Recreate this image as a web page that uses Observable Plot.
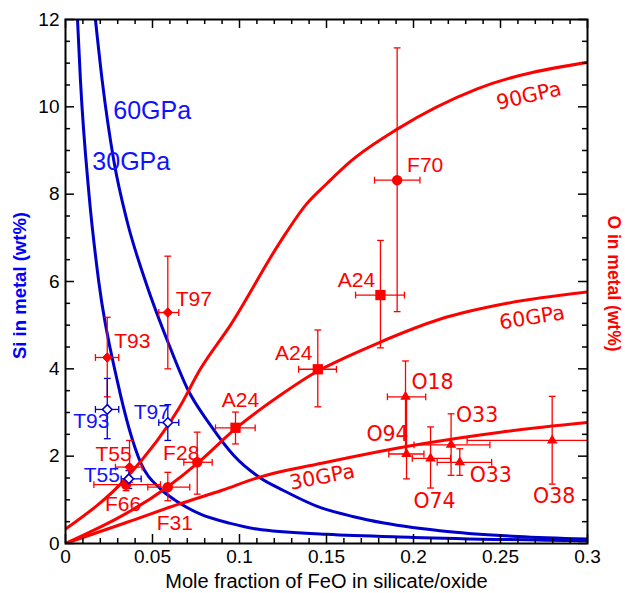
<!DOCTYPE html>
<html><head><meta charset="utf-8">
<script src="https://cdn.jsdelivr.net/npm/d3@7"></script>
<script src="https://cdn.jsdelivr.net/npm/@observablehq/plot@0.6"></script>
<style>body{margin:0;background:#fff}#chart{width:625px;height:593px}</style>
</head><body><div id="chart"></div>
<script>
// ---------- data ----------
// Si in metal (blue) model curves
const si30X = [0.0069,0.0086,0.0135,0.0191,0.0299,0.0431,0.0546,0.0651,0.0776,0.0948,0.11,0.15,0.2,0.3];
const si30Y = [12,10.6,8.0,6.0,3.70,1.86,1.25,0.94,0.67,0.46,0.33,0.21,0.14,0.06];
const si60X = [0.0172,0.0211,0.0278,0.0354,0.046,0.0603,0.07,0.0833,0.0966,0.112,0.125,0.1447,0.165,0.183,0.221,0.26,0.3];
const si60Y = [12,10.6,8.76,7.38,6.0,4.47,3.55,2.71,2.02,1.5,1.22,0.85,0.62,0.47,0.27,0.16,0.10];
// O in metal (red) model curves
const o30X = [0,0.035,0.065,0.09,0.11,0.15,0.2,0.25,0.3];
const o30Y = [0,0.48,0.90,1.22,1.50,1.86,2.25,2.55,2.77];
const o60X = [0,0.0584,0.0776,0.0977,0.1236,0.145,0.162,0.179,0.2155,0.2538,0.3];
const o60Y = [0,1.29,1.9,2.63,3.40,3.95,4.28,4.58,5.14,5.50,5.76];
const o90X = [0,0.0354,0.0651,0.0776,0.0948,0.1236,0.138,0.1504,0.1638,0.1907,0.2366,0.3];
const o90Y = [0.33,1.52,3.09,4.0,5.0,6.92,7.75,8.25,8.75,9.49,10.41,11.02];

// O in metal measurements
const oLabel = ["T97","T93","T55","F66","F31","F28","A24","A24","A24","F70","O18","O94","O74","O33","O33","O38"];
const oShape = ["diamond2","diamond2","diamond2","circle","circle","circle","square","square","square","circle","triangle","triangle","triangle","triangle","triangle","triangle"];
const oX   = [0.0588,0.024,0.0368,0.0348,0.0588,0.0757,0.0977,0.145,0.181,0.1906,0.1954,0.196,0.2098,0.2216,0.2266,0.2797];
const oY   = [5.29,4.26,1.75,1.35,1.29,1.86,2.65,3.99,5.69,8.32,3.36,2.05,1.95,2.26,1.86,2.36];
const oXlo = [0.0536,0.0172,0.0287,0.0163,0.0473,0.068,0.0862,0.134,0.1667,0.1776,0.185,0.1858,0.1993,0.2003,0.2136,0.2308];
const oXhi = [0.0651,0.0306,0.044,0.0546,0.0714,0.0843,0.109,0.1557,0.1948,0.2037,0.207,0.206,0.2213,0.2439,0.2449,0.32];
const oYlo = [4.0,3.36,1.40,1.21,0.98,1.13,2.28,3.13,4.48,5.31,2.05,1.48,1.27,1.56,1.56,1.36];
const oYhi = [6.58,5.18,2.36,1.48,1.63,2.55,3.01,4.89,6.94,11.35,4.18,3.36,2.67,2.97,2.17,3.37];

// Si in metal measurements
const sLabel = ["T93","T97","T55"];
const sX   = [0.024,0.0588,0.0364];
const sY   = [3.07,2.77,1.48];
const sXlo = [0.0172,0.0536,0.032];
const sXhi = [0.0306,0.0651,0.0435];
const sYlo = [2.40,2.36,1.26];
const sYhi = [3.78,3.18,1.67];

// curve labels
const blueCurveLabel = ["60GPa","30GPa"];
const blueCurveLX = [0.0498,0.0378];
const blueCurveLY = [9.90,8.74];
const redCurveLabel = ["90GPa","60GPa","30GPa"];
const redCurveLX = [0.2663,0.2682,0.1475];
const redCurveLY = [10.25,5.17,1.52];

// ticks
const xTickLabels = [0,0.05,0.1,0.15,0.2,0.25,0.3];
const yTickLabels = [0,2,4,6,8,10,12];

// ---------- layout / style (not data) ----------
const W = 625, H = 593, mL = 65, mR = 38, mT = 19, mB = 50;
const PW = W - mL - mR, PH = H - mT - mB;
const RED = "#ff0000", BLUE_LINE = "#0000cc", BLUE_TXT = "#1212ff";
const SANS = "Liberation Sans, Arial, Helvetica, sans-serif";
const DEJ = "DejaVu Sans, Verdana, sans-serif";
const oLabelOff = [[26,-13],[25,-16],[-16,-13],[-3,20],[7,36],[-16,-9],[5,-28],[-24,-16],[-24,-15],[28,-15],[27,-14],[-19,-20],[4,43],[26,-29],[31,13],[2,56]];
const sLabelOff = [[-16,12],[-16,-10],[-27,-4]];
const redCurveRot = [-13,-9,-11];

const curve = (xs, ys) => xs.map((x, i) => ({x, y: ys[i]}));
const pts = (lab, xs, ys, xlo, xhi, ylo, yhi, extra) => xs.map((x, i) => ({
  label: lab[i], x, y: ys[i], xlo: xlo[i], xhi: xhi[i], ylo: ylo[i], yhi: yhi[i], ...(extra ? extra(i) : {})
}));
const oPts = pts(oLabel, oX, oY, oXlo, oXhi, oYlo, oYhi, i => ({shape: oShape[i], dx: oLabelOff[i][0], dy: oLabelOff[i][1], font: oLabel[i][0] === "O" ? DEJ : SANS, fs: oLabel[i][0] === "O" ? 20.5 : 21}));
const sPts = pts(sLabel, sX, sY, sXlo, sXhi, sYlo, sYhi, i => ({dx: sLabelOff[i][0], dy: sLabelOff[i][1]}));

const vcap = {draw(ctx) { ctx.moveTo(0, -3.4); ctx.lineTo(0, 3.4); }};
const hcap = {draw(ctx) { ctx.moveTo(-3.4, 0); ctx.lineTo(3.4, 0); }};

function errorBars(data, color) {
  const o = {stroke: color, strokeWidth: 1.3, clip: true};
  return [
    Plot.link(data, {x1: "xlo", x2: "xhi", y1: "y", y2: "y", ...o}),
    Plot.link(data, {x1: "x", x2: "x", y1: "ylo", y2: "yhi", ...o}),
    Plot.dot(data, {x: "xlo", y: "y", symbol: vcap, fill: "none", ...o}),
    Plot.dot(data, {x: "xhi", y: "y", symbol: vcap, fill: "none", ...o}),
    Plot.dot(data, {x: "x", y: "ylo", symbol: hcap, fill: "none", ...o}),
    Plot.dot(data, {x: "x", y: "yhi", symbol: hcap, fill: "none", ...o})
  ];
}

const xMinor = d3.range(1, 30).filter(i => i % 5 !== 0).map(i => i / 100);
const yMinor = d3.range(1, 24).filter(i => i % 4 !== 0).map(i => i / 2);
const tk = {stroke: "black", strokeWidth: 1.5};

const chart = Plot.plot({
  width: W, height: H,
  marginLeft: mL, marginRight: mR, marginTop: mT, marginBottom: mB,
  style: {fontFamily: SANS, background: "white", color: "black"},
  x: {domain: [0, 0.3], axis: null},
  y: {domain: [0, 12], axis: null},
  marks: [
    // model curves
    Plot.line(curve(si30X, si30Y), {x: "x", y: "y", stroke: BLUE_LINE, strokeWidth: 3, curve: "monotone-x", clip: true}),
    Plot.line(curve(si60X, si60Y), {x: "x", y: "y", stroke: BLUE_LINE, strokeWidth: 3, curve: "monotone-x", clip: true}),
    Plot.line(curve(o30X, o30Y), {x: "x", y: "y", stroke: RED, strokeWidth: 3, curve: "monotone-x", clip: true}),
    Plot.line(curve(o60X, o60Y), {x: "x", y: "y", stroke: RED, strokeWidth: 3, curve: "monotone-x", clip: true}),
    Plot.line(curve(o90X, o90Y), {x: "x", y: "y", stroke: RED, strokeWidth: 3, curve: "monotone-x", clip: true}),
    // error bars
    ...errorBars(oPts, RED),
    ...errorBars(sPts, BLUE_LINE),
    // markers
    Plot.dot(oPts.filter(d => d.shape === "circle"), {x: "x", y: "y", symbol: "circle", r: 5.2, fill: RED}),
    Plot.dot(oPts.filter(d => d.shape === "square"), {x: "x", y: "y", symbol: "square", r: 5.8, fill: RED}),
    Plot.dot(oPts.filter(d => d.shape === "diamond2"), {x: "x", y: "y", symbol: "diamond2", r: 4.3, fill: RED, stroke: RED, strokeWidth: 1}),
    Plot.dot(oPts.filter(d => d.shape === "triangle"), {x: "x", y: "y", symbol: "triangle", r: 3.9, fill: RED}),
    Plot.dot(sPts, {x: "x", y: "y", symbol: "diamond2", r: 4.3, fill: "white", stroke: BLUE_LINE, strokeWidth: 1.6}),
    // point labels
    ...oPts.map(d => Plot.text([d], {x: "x", y: "y", text: "label", dx: d.dx, dy: d.dy, fill: RED, fontSize: d.fs, fontFamily: d.font})),
    ...sPts.map(d => Plot.text([d], {x: "x", y: "y", text: "label", dx: d.dx, dy: d.dy, fill: BLUE_TXT, fontSize: 21})),
    // curve labels
    Plot.text(blueCurveLabel, {x: (d, i) => blueCurveLX[i], y: (d, i) => blueCurveLY[i], text: d => d, fill: BLUE_TXT, fontSize: 25}),
    ...redCurveLabel.map((t, i) => Plot.text([t], {x: () => redCurveLX[i], y: () => redCurveLY[i], text: d => d, fill: RED, fontSize: 20.5, fontFamily: DEJ, rotate: redCurveRot[i]})),
    // frame & ticks (inward)
    Plot.ruleX(xTickLabels, {x: d => d, insetTop: PH - 9, ...tk}),
    Plot.ruleX(xTickLabels, {x: d => d, insetBottom: PH - 9, ...tk}),
    Plot.ruleX(xMinor, {x: d => d, insetTop: PH - 5, ...tk}),
    Plot.ruleX(xMinor, {x: d => d, insetBottom: PH - 5, ...tk}),
    Plot.ruleY(yTickLabels, {y: d => d, insetRight: PW - 9, ...tk}),
    Plot.ruleY(yTickLabels, {y: d => d, insetLeft: PW - 9, ...tk}),
    Plot.ruleY(yMinor, {y: d => d, insetRight: PW - 5, ...tk}),
    Plot.ruleY(yMinor, {y: d => d, insetLeft: PW - 5, ...tk}),
    Plot.frame({stroke: "black", strokeWidth: 2}),
    // axis labels
    Plot.axisX({ticks: xTickLabels, tickSize: 0, tickPadding: 6, fontSize: 19, tickFormat: d => String(d), label: null}),
    Plot.axisY({ticks: yTickLabels, tickSize: 0, tickPadding: 6, fontSize: 19, tickFormat: d => String(d), label: null}),
    Plot.text(["Mole fraction of FeO in silicate/oxide"], {frameAnchor: "bottom", textAnchor: "middle", lineAnchor: "middle", dy: 38, fontSize: 20, fill: "black"}),
    Plot.text(["Si in metal (wt%)"], {frameAnchor: "left", textAnchor: "middle", lineAnchor: "middle", dx: -45, dy: 4, rotate: -90, fontSize: 18.5, fontWeight: "bold", fill: "#0000ff"}),
    Plot.text(["O in metal (wt%)"], {frameAnchor: "right", textAnchor: "middle", lineAnchor: "middle", dx: 26, dy: 2, rotate: 90, fontSize: 17.5, fontWeight: "bold", fill: RED})
  ]
});
document.getElementById("chart").appendChild(chart);
</script>
</body></html>
